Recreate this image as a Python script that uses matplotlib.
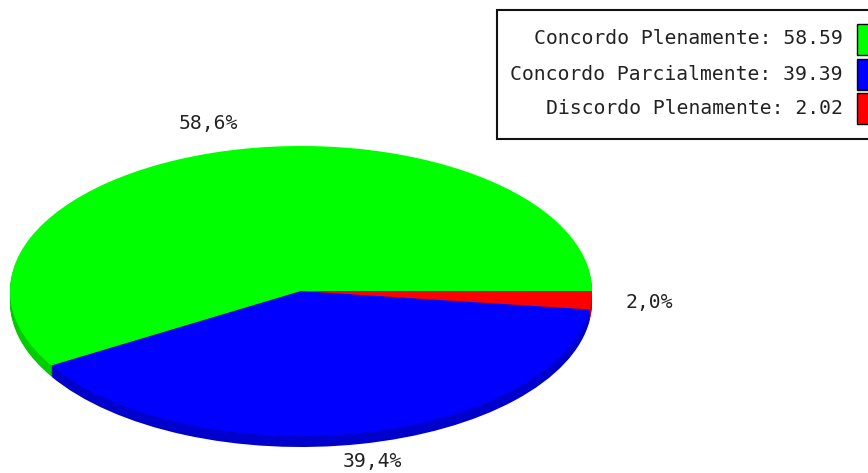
import numpy as np
import matplotlib
matplotlib.use('Agg')
import matplotlib.pyplot as plt
from matplotlib.patches import Rectangle

# data
labels = ['Concordo Plenamente', 'Concordo Parcialmente', 'Discordo Plenamente']
values = [58.59, 39.39, 2.02]
colors = ['#00ff00', '#0000ff', '#ff0000']
side_colors = ['#00cc00', '#0000cc', '#cc0000']

W, H = 868, 473
CX, CY = 301, 291     # pie centre, pixels
RX, RY = 291, 145     # ellipse half axes, pixels
DEPTH = 11
FS = 14.2

plt.rcParams['font.family'] = ['DejaVu Sans Mono']
fig = plt.figure(figsize=(W / 100, H / 100), dpi=100)

# pie axes: data unit 1 = one radius, so the circle becomes the ellipse
ax = fig.add_axes([0, 0, 1, 1])
xlim = (-CX / RX, (W - CX) / RX)
ylim = ((CY - H) / RY, CY / RY)

# extruded side: stack of shifted copies
for d in range(DEPTH, 0, -1):
    ax.pie(values, colors=side_colors, startangle=0, counterclock=True,
           center=(0, -d / RY), radius=1, wedgeprops=dict(linewidth=0))

ax.pie(values, colors=colors, startangle=0, counterclock=True,
       center=(0, 0), radius=1, wedgeprops=dict(linewidth=0),
       autopct=lambda p: ('%.1f%%' % p).replace('.', ','), pctdistance=1.2,
       textprops=dict(fontsize=FS, color='#222222'))
ax.set_aspect('auto')
ax.set_xlim(*xlim)
ax.set_ylim(*ylim)
ax.axis('off')

# legend, pixel coords
lax = fig.add_axes([0, 0, 1, 1])
lax.set_xlim(0, W)
lax.set_ylim(H, 0)
lax.axis('off')
lax.patch.set_alpha(0)
lax.add_patch(Rectangle((497, 10), 400, 129, facecolor='white', edgecolor='#111111', lw=1.5))
row_y = [39, 74, 108]
for lab, v, c, y in zip(labels, values, colors, row_y):
    lax.text(843, y, '%s: %.2f' % (lab, v), ha='right', va='center',
             fontsize=FS, color='#222222')
    lax.add_patch(Rectangle((857, y - 15), 30, 31, facecolor=c, edgecolor='black', lw=1))

fig.savefig('out.png', dpi=100)
